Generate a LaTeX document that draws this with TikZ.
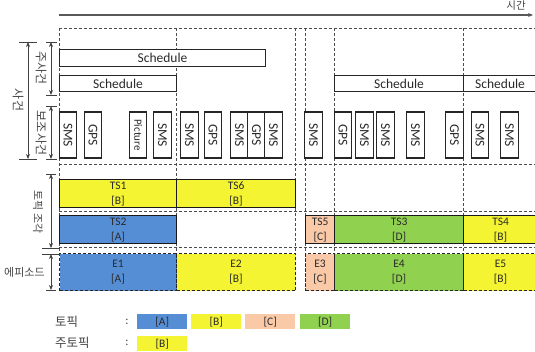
\documentclass[tikz,border=0pt]{standalone}
\usepackage{fontspec}
\setmainfont{Carlito}
\newfontfamily\kr{Noto Sans CJK KR}
\usetikzlibrary{arrows.meta}
\definecolor{cA}{HTML}{568ED6}
\definecolor{cB}{HTML}{F4F433}
\definecolor{cC}{HTML}{FAC9A8}
\definecolor{cD}{HTML}{90D150}
\definecolor{ink}{HTML}{2A2A2A}
\definecolor{lab}{HTML}{444444}
\begin{document}
\begin{tikzpicture}[x=1pt,y=-1pt,
  gridline/.style={draw=black!70, dash pattern=on 3pt off 2pt, line width=1pt},
  evbox/.style={draw=black!85, line width=1.1pt, fill=white, anchor=north west, inner sep=0pt,
    text=ink, font=\fontsize{13.5}{15}\selectfont},
  smallbox/.style={draw=black!85, line width=1.1pt, fill=white, rotate=-90, inner sep=0pt,
    minimum width=46pt, minimum height=17.5pt, text=ink, font=\fontsize{13.5}{15}\selectfont},
  tsbox/.style={draw=black!90, line width=1.2pt, anchor=north west, inner sep=0pt, align=center,
    minimum height=28pt, text=ink, font=\fontsize{11.5}{15}\selectfont},
  epbox/.style={draw=black!85, dash pattern=on 3pt off 2pt, line width=1.1pt, anchor=north west,
    inner sep=0pt, align=center, minimum height=37pt, text=ink, font=\fontsize{11.5}{15}\selectfont},
  legbox/.style={anchor=north west, inner sep=0pt, minimum width=50pt, minimum height=15pt,
    text=ink, font=\fontsize{11.5}{14}\selectfont},
  dim/.style={draw=black!75, line width=1pt, {Stealth[length=5pt,width=4pt]}-{Stealth[length=5pt,width=4pt]}},
  tick/.style={draw=black!75, line width=1pt},
  klab/.style={text=lab, font=\kr\fontsize{11}{13}\selectfont, inner sep=0pt}
]
\clip (0,0) rectangle (535,351);

% time axis
\coordinate (t0) at (59,15);
\coordinate (t1) at (533,15);
\draw[draw=black!65, line width=1.3pt, -{Stealth[length=5pt,width=4pt]}] (t0) -- (t1);
\node[klab, font=\kr\fontsize{10.5}{12}\selectfont] (time) at (516,6) {시간};

% dashed grid
\foreach \x in {59,176,295,305,334,463} \draw[gridline] (\x,28) -- (\x,292);
\foreach \y in {28,164,211,247} \draw[gridline] (59,\y) -- (537,\y);

% main events
\node[evbox, minimum width=206pt, minimum height=17pt] (sch1) at (59,49) {Schedule};
\node[evbox, minimum width=117pt, minimum height=16pt] (sch2) at (59,75) {Schedule};
\node[evbox, minimum width=129pt, minimum height=16pt] (sch3) at (334,75) {Schedule};
\node[evbox, minimum width=73pt, minimum height=16pt] (sch4) at (463,75) {Schedule};

% auxiliary events
\foreach \x/\t [count=\i] in {68/SMS,93/GPS,162.5/SMS,189.5/SMS,213/GPS,239.5/SMS,256.5/GPS,273.5/SMS,313.5/SMS,343/GPS,364.5/SMS,385.5/SMS,415.5/SMS,454.5/GPS,480/SMS,509.5/SMS}
  \node[smallbox] (aux\i) at (\x,135) {\t};
\node[smallbox, font=\fontsize{11}{13}\selectfont] (pic) at (138,135) {Picture};

% topic segments
\node[tsbox, fill=cB, minimum width=117pt] (ts1) at (59,179) {TS1\\{[B]}};
\node[tsbox, fill=cB, minimum width=119pt] (ts6) at (176,179) {TS6\\{[B]}};
\node[tsbox, fill=cA, minimum width=117pt] (ts2) at (59,215) {TS2\\{[A]}};
\node[tsbox, fill=cC, minimum width=29pt] (ts5) at (305,215) {TS5\\{[C]}};
\node[tsbox, fill=cD, minimum width=129pt] (ts3) at (334,215) {TS3\\{[D]}};
\node[tsbox, fill=cB, minimum width=74pt] (ts4) at (463,215) {TS4\\{[B]}};

% episodes
\node[epbox, fill=cA, minimum width=117pt] (e1) at (59,253) {E1\\{[A]}};
\node[epbox, fill=cB, minimum width=119pt] (e2) at (176,253) {E2\\{[B]}};
\node[epbox, fill=cC, minimum width=29pt] (e3) at (305,253) {E3\\{[C]}};
\node[epbox, fill=cD, minimum width=129pt] (e4) at (334,253) {E4\\{[D]}};
\node[epbox, fill=cB, minimum width=74pt] (e5) at (463,253) {E5\\{[B]}};

% left dimension arrows
\coordinate (o1) at (28,42); \coordinate (o2) at (28,159);
\draw[dim] (o1) -- (o2);
\draw[tick] (19,42) -- (37,42); \draw[tick] (19,159) -- (37,159);
\node[klab, rotate=-90, font=\kr\fontsize{12}{14}\selectfont] (ev) at (18,100) {사건};

\coordinate (m1) at (51,42); \coordinate (m2) at (51,95);
\draw[dim] (m1) -- (m2);
\draw[tick] (46,42) -- (57,42); \draw[tick] (46,95) -- (57,95);
\node[klab, rotate=-90, font=\kr\fontsize{12}{14}\selectfont] (mev) at (41,68) {주사건};

\coordinate (a1) at (51,106); \coordinate (a2) at (51,159);
\draw[dim] (a1) -- (a2);
\draw[tick] (46,106) -- (57,106); \draw[tick] (46,159) -- (57,159);
\node[klab, rotate=-90, font=\kr\fontsize{12}{14}\selectfont] (aev) at (41,133) {보조사건};

\coordinate (p1) at (51,174); \coordinate (p2) at (51,248);
\draw[dim] (p1) -- (p2);
\draw[tick] (46,174) -- (56,174); \draw[tick] (42,248) -- (60,248);
\node[klab, rotate=-90] (tsl) at (38,212) {토픽 조각};

\coordinate (q1) at (51,254); \coordinate (q2) at (51,290);
\draw[dim] (q1) -- (q2);
\draw[tick] (42,254) -- (60,254); \draw[tick] (46,290) -- (56,290);
\node[klab, anchor=west] (epl) at (4,272) {에피소드};

% legend
\node[klab, anchor=west, font=\kr\fontsize{12.5}{14}\selectfont] (lg1) at (55,322) {토픽};
\node[klab, font=\fontsize{12}{14}\selectfont] (c1) at (127,322) {:};
\node[legbox, fill=cA] (la) at (137,314) {[A]};
\node[legbox, fill=cB] (lb) at (191,314) {[B]};
\node[legbox, fill=cC] (lc) at (245,314) {[C]};
\node[legbox, fill=cD] (ld) at (300,314) {[D]};
\node[klab, anchor=west, font=\kr\fontsize{12.5}{14}\selectfont] (lg2) at (55,343) {주토픽};
\node[klab, font=\fontsize{12}{14}\selectfont] (c2) at (127,343) {:};
\node[legbox, fill=cB] (lb2) at (137,336) {[B]};
\end{tikzpicture}
\end{document}
